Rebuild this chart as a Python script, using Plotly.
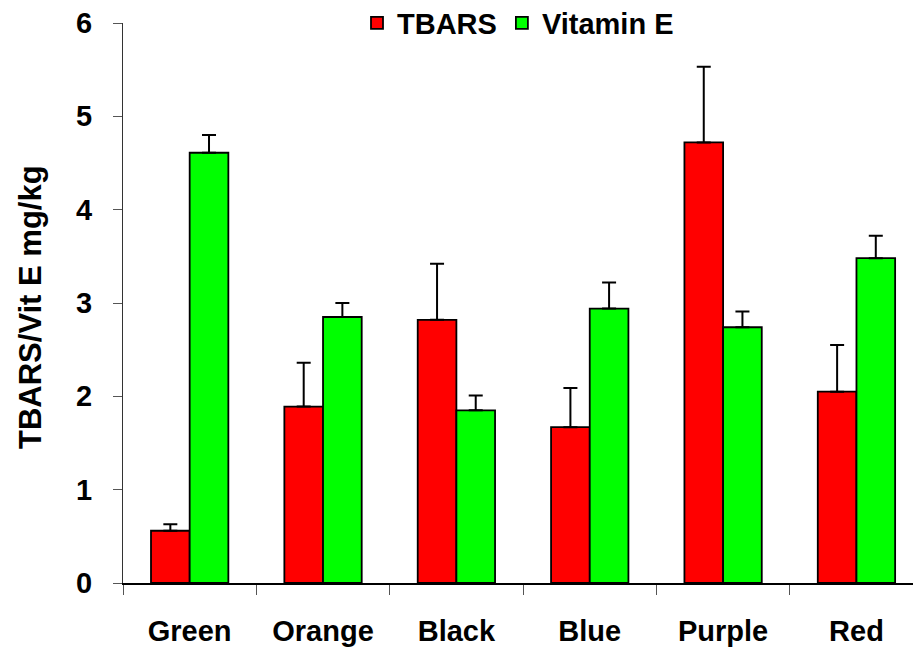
import plotly.graph_objects as go

categories = ["Green", "Orange", "Black", "Blue", "Purple", "Red"]
tbars = [0.56, 1.89, 2.82, 1.67, 4.72, 2.05]
tbars_err = [0.07, 0.47, 0.60, 0.42, 0.81, 0.50]
vit_e = [4.61, 2.85, 1.85, 2.94, 2.74, 3.48]
vit_e_err = [0.19, 0.15, 0.16, 0.28, 0.17, 0.24]
zeros = [0] * len(categories)

FONT = "Liberation Sans, Arial, sans-serif"

def err(upper):
    return dict(type="data", symmetric=False, array=upper, arrayminus=zeros,
                color="black", thickness=2, width=7)

fig = go.Figure()
fig.add_trace(go.Bar(
    x=categories, y=tbars, name="TBARS",
    marker=dict(color="#FF0000", line=dict(color="black", width=1.8)),
    error_y=err(tbars_err),
))
fig.add_trace(go.Bar(
    x=categories, y=vit_e, name="Vitamin E",
    marker=dict(color="#00FF00", line=dict(color="black", width=1.8)),
    error_y=err(vit_e_err),
))

fig.update_layout(
    width=914, height=649,
    margin=dict(l=123, r=1, t=23, b=66, autoexpand=False),
    paper_bgcolor="white", plot_bgcolor="white",
    barmode="group", bargap=0.42, bargroupgap=0,
    font=dict(family=FONT, size=29, color="black"),
    legend=dict(orientation="h", x=0.5, xanchor="center", y=1.0, yanchor="middle",
                font=dict(family=FONT, size=29, color="black", weight="bold"),
                bgcolor="rgba(0,0,0,0)", itemwidth=30),
    annotations=[dict(
        text="<b>TBARS/Vit E mg/kg</b>", textangle=-90,
        xref="paper", yref="paper", x=(30 - 123) / 790, y=(649 - 66 - 307) / 560,
        xanchor="center", yanchor="middle", showarrow=False,
        font=dict(family=FONT, size=31, color="black"),
    )],
)

fig.update_xaxes(
    range=[-0.5, 5.424], tickson="boundaries",
    ticks="outside", ticklen=10, tickwidth=1, tickcolor="#555555",
    showline=True, linecolor="black", linewidth=1.5,
    showgrid=False, zeroline=False,
    tickfont=dict(family=FONT, size=29, color="black", weight="bold"),
    ticklabelstandoff=21,
)
fig.update_yaxes(
    range=[0, 6], tickvals=[0, 1, 2, 3, 4, 5, 6],
    ticks="outside", ticklen=9, tickwidth=1, tickcolor="#555555",
    showline=True, linecolor="#333333", linewidth=1,
    showgrid=False, zeroline=False,
    tickfont=dict(family=FONT, size=29, color="black", weight="bold"),
    ticklabelstandoff=15,
)

fig.write_html("out.html")
